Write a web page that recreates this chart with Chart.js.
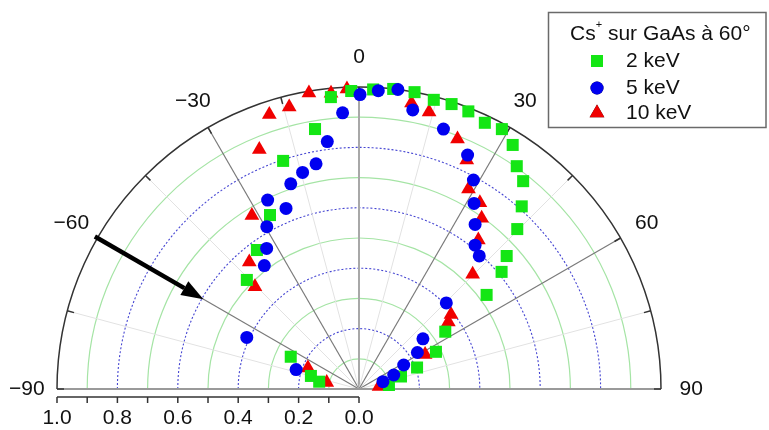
<!DOCTYPE html>
<html>
<head>
<meta charset="utf-8">
<script src="https://cdn.jsdelivr.net/npm/chart.js@4.4.0/dist/chart.umd.min.js"></script>
<style>
body { margin: 0; background: #fff; }
#wrap { width: 769px; height: 430px; }
</style>
</head>
<body>
<div id="wrap"><canvas id="polarChart" width="769" height="430"></canvas></div>
<script>
// angles in degrees (0 = normale), rayons normalisés
const angleLabels = [-90, -60, -30, 0, 30, 60, 90];
const radiusLabels = [1.0, 0.8, 0.6, 0.4, 0.2, 0.0];
const greenRings = [0.1, 0.3, 0.5, 0.7, 0.9];
const blueRings = [0.2, 0.4, 0.6, 0.8];
const seriesNames = ['2 keV', '5 keV', '10 keV'];

const angle2keV = [-1.5, -5.5, -9.6, -18.4, -27.1, -36.3, -45.8, -64.7, -74.8, -79.6,
    2.7, 6.5, 10.6, 14.5, 18.0, 21.5, 25.3, 28.8, 32.2, 35.3, 38.3, 41.7, 44.7, 48.0,
    50.6, 53.6, 56.4, 64.2, 69.7, 73.4, 82.4];
const radius2keV = [0.987, 0.971, 0.873, 0.796, 0.647, 0.571, 0.518, 0.250, 0.165, 0.134,
    0.993, 1.0, 1.0, 0.989, 0.992, 0.988, 0.975, 0.982, 0.955, 0.904, 0.877, 0.810, 0.745, 0.658,
    0.611, 0.525, 0.343, 0.283, 0.205, 0.145, 0.100];

const angle5keV = [0.2, -3.4, -7.3, -10.8, -14.6, -18.4, -25.8, -22.0, -29.6, -33.3, -37.5, -65.3, -72.8,
    3.7, 7.4, 10.9, 18.0, 24.9, 28.7, 31.8, 35.2, 38.9, 42.1, 45.4, 51.9, 58.0, 61.8, 68.0, 73.1];
const radius5keV = [0.975, 0.916, 0.826, 0.759, 0.741, 0.716, 0.695, 0.645, 0.618, 0.557, 0.515, 0.409, 0.218,
    0.990, 1.0, 0.941, 0.905, 0.854, 0.789, 0.723, 0.667, 0.612, 0.594, 0.406, 0.269, 0.228, 0.168, 0.124, 0.083];

const angle10keV = [-2.3, -9.6, -5.4, -13.9, -18.1, -22.6, -31.7, -40.8, -45.5, -67.6, -78.6,
    10.4, 14.2, 21.5, 25.2, 28.7, 33.0, 35.7, 38.7, 44.7, 51.0, 53.1, 62.4, 82.9];
const radius10keV = [0.994, 0.994, 0.984, 0.962, 0.956, 0.859, 0.675, 0.556, 0.483, 0.183, 0.109,
    0.963, 0.946, 0.890, 0.838, 0.755, 0.735, 0.696, 0.632, 0.535, 0.392, 0.370, 0.247, 0.067];

const incidenceAngle = -60;

// position du centre du demi-cercle dans la fenêtre
const W = 769, H = 430, CX = 359, CY = 389, UNIT = 302;
const FONT = "'Liberation Sans', Arial, sans-serif";

const rad = d => d * Math.PI / 180;

function versXY(angles, rayons) {
    return angles.map((a, i) => ({
        x: rayons[i] * Math.sin(rad(a)),
        y: rayons[i] * Math.cos(rad(a))
    }));
}

const grillePolaire = {
    id: 'grillePolaire',
    beforeDatasetsDraw(chart) {
        const ctx = chart.ctx;
        const xs = chart.scales.x, ys = chart.scales.y;
        const cx = xs.getPixelForValue(0), cy = ys.getPixelForValue(0);
        const u = xs.getPixelForValue(1) - cx;
        const pt = (r, a) => [xs.getPixelForValue(r * Math.sin(rad(a))), ys.getPixelForValue(r * Math.cos(rad(a)))];

        ctx.save();
        // cercles verts
        ctx.strokeStyle = 'rgb(165,228,165)';
        ctx.lineWidth = 1.2;
        greenRings.forEach(r => {
            ctx.beginPath();
            ctx.arc(cx, cy, r * u, Math.PI, 2 * Math.PI);
            ctx.stroke();
        });
        // cercles bleus pointillés
        ctx.strokeStyle = 'rgb(70,70,210)';
        ctx.setLineDash([2, 2]);
        ctx.lineWidth = 1.1;
        blueRings.forEach(r => {
            ctx.beginPath();
            ctx.arc(cx, cy, r * u, Math.PI, 2 * Math.PI);
            ctx.stroke();
        });
        ctx.setLineDash([]);

        // rayons
        for (let a = -75; a <= 75; a += 15) {
            let p = pt(1, a);
            ctx.beginPath();
            ctx.moveTo(cx, cy);
            ctx.lineTo(p[0], p[1]);
            if (a === 0) {
                ctx.strokeStyle = '#a8a8a8';
                ctx.lineWidth = 2;
            } else if (a % 30 === 0) {
                ctx.strokeStyle = '#7a7a7a';
                ctx.lineWidth = 1.2;
            } else {
                ctx.strokeStyle = '#e2e2e2';
                ctx.lineWidth = 1;
            }
            ctx.stroke();
        }
        // ligne de base
        ctx.strokeStyle = '#9a9a9a';
        ctx.lineWidth = 2;
        ctx.beginPath();
        ctx.moveTo(cx - u, cy);
        ctx.lineTo(cx + u, cy);
        ctx.stroke();

        // arc extérieur
        ctx.strokeStyle = '#333';
        ctx.lineWidth = 1.5;
        ctx.beginPath();
        ctx.arc(cx, cy, u, Math.PI, 2 * Math.PI);
        ctx.stroke();
        for (let a = -90; a <= 90; a += 15) {
            let p1 = pt(1, a), p2 = pt(1 - 7 / u, a);
            ctx.beginPath();
            ctx.moveTo(p1[0], p1[1]);
            ctx.lineTo(p2[0], p2[1]);
            ctx.stroke();
        }

        // étiquettes d'angle
        ctx.fillStyle = '#111';
        ctx.font = '21px ' + FONT;
        ctx.textAlign = 'center';
        ctx.textBaseline = 'middle';
        angleLabels.forEach(a => {
            let p = pt(1.1, a);
            ctx.fillText(String(a).replace('-', '\u2212'), p[0], p[1]);
        });

        // axe radial en bas
        const yAxe = cy + 8;
        ctx.strokeStyle = '#333';
        ctx.lineWidth = 1.5;
        ctx.beginPath();
        ctx.moveTo(cx - u, yAxe);
        ctx.lineTo(cx, yAxe);
        ctx.stroke();
        for (let i = 0; i <= 10; i++) {
            let x = cx - i / 10 * u;
            ctx.beginPath();
            ctx.moveTo(x, yAxe);
            ctx.lineTo(x, yAxe + 6);
            ctx.stroke();
        }
        radiusLabels.forEach(r => {
            ctx.fillText(r.toFixed(1), cx - r * u, yAxe + 21);
        });

        // flèche d'incidence
        const queue = pt(1.01, incidenceAngle), pointe = pt(0.595, incidenceAngle);
        const ang = Math.atan2(pointe[1] - queue[1], pointe[0] - queue[0]);
        const lh = 22, lw = 8;
        const bx = pointe[0] - lh * Math.cos(ang), by = pointe[1] - lh * Math.sin(ang);
        ctx.strokeStyle = '#000';
        ctx.fillStyle = '#000';
        ctx.lineWidth = 4.5;
        ctx.beginPath();
        ctx.moveTo(queue[0], queue[1]);
        ctx.lineTo(bx, by);
        ctx.stroke();
        ctx.beginPath();
        ctx.moveTo(pointe[0], pointe[1]);
        ctx.lineTo(bx + lw * Math.sin(ang), by - lw * Math.cos(ang));
        ctx.lineTo(bx - lw * Math.sin(ang), by + lw * Math.cos(ang));
        ctx.closePath();
        ctx.fill();
        ctx.restore();
    },
    afterDraw(chart) {
        const ctx = chart.ctx;
        ctx.save();
        ctx.fillStyle = '#fff';
        ctx.fillRect(548, 12, 218, 116);
        ctx.strokeStyle = '#6a6a6a';
        ctx.lineWidth = 1.5;
        ctx.strokeRect(548.5, 12.5, 217.5, 115);

        ctx.fillStyle = '#111';
        ctx.textAlign = 'left';
        ctx.textBaseline = 'middle';
        ctx.font = '21px ' + FONT;
        let x = 570;
        ctx.fillText('Cs', x, 34);
        x += ctx.measureText('Cs').width;
        ctx.font = '11px ' + FONT;
        ctx.fillText('+', x, 25);
        x += ctx.measureText('+').width;
        ctx.font = '21px ' + FONT;
        ctx.fillText(' sur GaAs \u00e0 60\u00b0', x, 34);

        const ys = [61, 88, 113];
        chart.data.datasets.forEach((ds, i) => {
            Chart.helpers.drawPoint(ctx, {
                pointStyle: ds.pointStyle,
                radius: ds.pointRadius,
                rotation: 0,
                borderWidth: 0
            }, 597, ys[i]);
            ctx.fillStyle = ds.backgroundColor;
            ctx.fill();
            ctx.fillStyle = '#111';
            ctx.fillText(seriesNames[i], 626, ys[i]);
        });
        ctx.restore();
    }
};

new Chart(document.getElementById('polarChart'), {
    type: 'scatter',
    data: {
        datasets: [
            {
                label: seriesNames[0],
                data: versXY(angle2keV, radius2keV),
                pointStyle: 'rect',
                pointRadius: 8.5,
                backgroundColor: '#14e614',
                borderWidth: 0,
                order: 1
            },
            {
                label: seriesNames[1],
                data: versXY(angle5keV, radius5keV),
                pointStyle: 'circle',
                pointRadius: 6.5,
                backgroundColor: '#0000f0',
                borderWidth: 0,
                order: 0
            },
            {
                label: seriesNames[2],
                data: versXY(angle10keV, radius10keV),
                pointStyle: 'triangle',
                pointRadius: 8.5,
                backgroundColor: '#f00000',
                borderWidth: 0,
                order: 2
            }
        ]
    },
    options: {
        responsive: false,
        animation: false,
        layout: { padding: 0, autoPadding: false },
        scales: {
            x: { type: 'linear', display: false, min: -CX / UNIT, max: (W - CX) / UNIT },
            y: { type: 'linear', display: false, min: -(H - CY) / UNIT, max: CY / UNIT }
        },
        plugins: {
            legend: { display: false },
            tooltip: { enabled: false }
        },
        elements: { point: { hoverRadius: 8 } }
    },
    plugins: [grillePolaire]
});
</script>
</body>
</html>
